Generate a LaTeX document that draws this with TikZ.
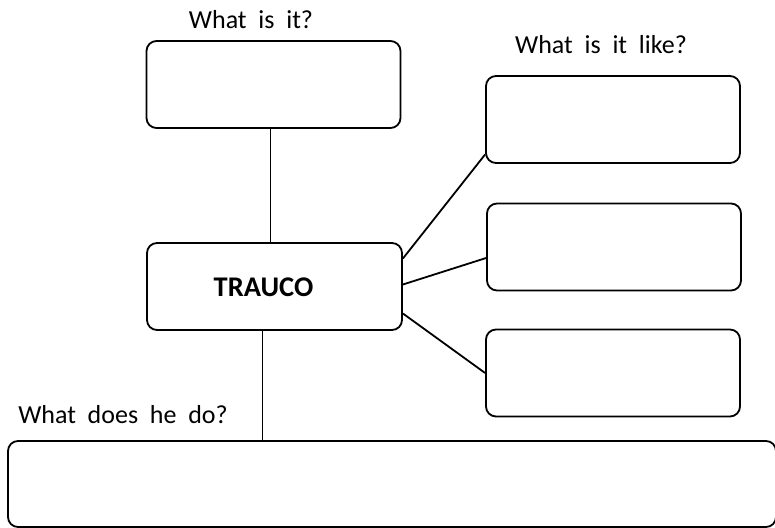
\documentclass[tikz,border=0pt]{standalone}
\usepackage{fontspec}
\setmainfont{Carlito}

\begin{document}
\begin{tikzpicture}[x=1pt, y=-1pt, font=\fontsize{26}{30}\selectfont,
		box/.style={draw, line width=1.8pt, rounded corners=10pt, inner sep=0pt, minimum width=254pt, minimum height=87pt},
		link/.style={line width=1.8pt}]
		\useasboundingbox (0,0) rectangle (775,527);
		% boxes
		\node[box] (what) at (273.5,84.5) {};
		\node[box, minimum width=255pt] (trauco) at (274.5,286.5) {};
		\node[box] (like1) at (613,119.5) {};
		\node[box] (like2) at (614,247) {};
		\node[box] (like3) at (613,373) {};
		\node[box, minimum width=768pt, minimum height=86pt] (does) at (392,484) {};
		% texts
		\node[font=\fontsize{28.5}{32}\selectfont\bfseries] (name) at (263.5,287.5) {TRAUCO};
		\node (whatq) at (251,20) {What\ \ is\ \ it?};
		\node (likeq) at (601,45) {What\ \ is\ \ it\ \ like?};
		\node (doesq) at (123,415) {What\ \ does\ \ he\ \ do?};
		% links
		\draw[link] ([xshift=-4pt]trauco.north) coordinate (up) -- (up |- what.south);
		\draw[link] ([xshift=-12pt]trauco.south) coordinate (down) -- (down |- does.north);
		\draw[link] ([yshift=28pt]trauco.east) -- ([yshift=-35pt]like1.west);
		\draw[link] ([yshift=2pt]trauco.east) -- ([yshift=-11pt]like2.west);
		\draw[link] ([yshift=-27pt]trauco.east) -- (like3.west);
	\end{tikzpicture}
\end{document}
